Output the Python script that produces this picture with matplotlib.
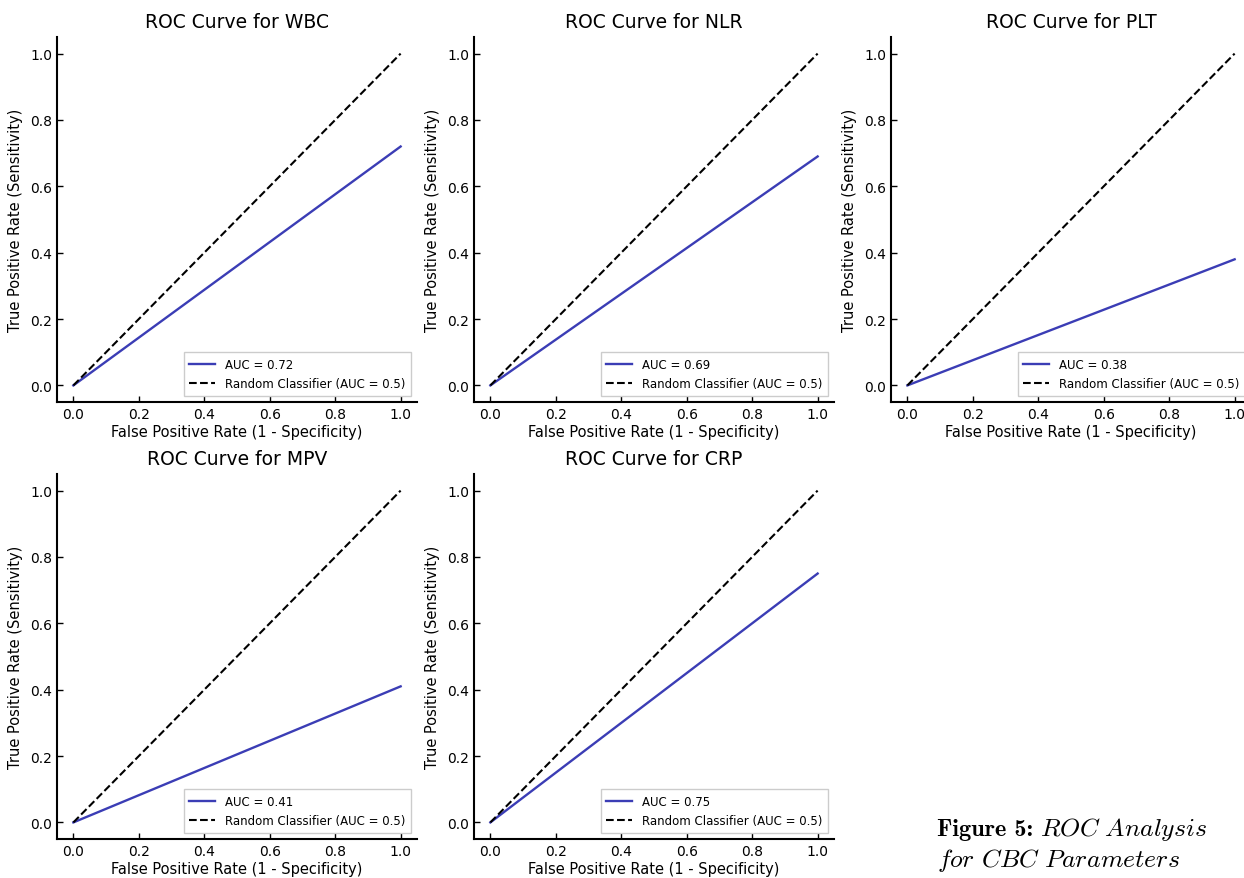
import matplotlib
matplotlib.use("Agg")
import matplotlib.pyplot as plt

plt.rcParams['mathtext.fontset'] = 'cm'

params = ["WBC", "NLR", "PLT", "MPV", "CRP"]
auc_values = [0.72, 0.69, 0.38, 0.41, 0.75]
fpr = [0.0, 1.0]
random_fpr = [0.0, 1.0]
random_tpr = [0.0, 1.0]
ticks = [0.0, 0.2, 0.4, 0.6, 0.8, 1.0]
tick_labels = ["0.0", "0.2", "0.4", "0.6", "0.8", "1.0"]

W, H = 1244, 879
fig = plt.figure(figsize=(W / 100, H / 100), dpi=100)

col_left = [57, 474, 891]
row_top = [38, 475]
ax_w, ax_h = 360, 365

positions = [(0, 0), (0, 1), (0, 2), (1, 0), (1, 1)]
for i, (name, auc) in enumerate(zip(params, auc_values)):
    r, c = positions[i]
    left = col_left[c] / W
    bottom = 1 - (row_top[r] + ax_h) / H
    ax = fig.add_axes([left, bottom, ax_w / W, ax_h / H])
    tpr = [0.0, auc]
    ax.plot(fpr, tpr, color='#3b3db5', lw=1.7, label=f"AUC = {auc:.2f}")
    ax.plot(random_fpr, random_tpr, color='black', ls='--', lw=1.5,
            label="Random Classifier (AUC = 0.5)")
    ax.set_xlim(-0.05, 1.05)
    ax.set_ylim(-0.05, 1.05)
    ax.set_xticks(ticks)
    ax.set_xticklabels(tick_labels)
    ax.set_yticks(ticks)
    ax.set_yticklabels(tick_labels)
    ax.tick_params(direction='in', labelsize=10, length=4, width=1)
    for s in ['top', 'right']:
        ax.spines[s].set_visible(False)
    for s in ['left', 'bottom']:
        ax.spines[s].set_linewidth(1.5)
    ax.set_title(f"ROC Curve for {name}", fontsize=13.5, pad=7)
    ax.set_xlabel("False Positive Rate (1 - Specificity)", fontsize=10.5, labelpad=2)
    ax.set_ylabel("True Positive Rate (Sensitivity)", fontsize=10.5, labelpad=5)
    ax.legend(loc='lower right', fontsize=8.5, fancybox=False, framealpha=1,
              edgecolor='#cccccc', handlelength=2.2, borderpad=0.5)

# caption
renderer = fig.canvas.get_renderer()
x0 = 937 / W
t1 = fig.text(x0, 1 - 836 / H, "Figure 5:", family='cmb10', fontsize=17.5,
              ha='left', va='baseline')
bb = t1.get_window_extent(renderer=renderer)
fig.text((bb.x1 + 7) / W, 1 - 836 / H, r'$\mathit{ROC\ Analysis}$',
         fontsize=18.5, ha='left', va='baseline')
fig.text(x0, 1 - 867 / H, r'$\mathit{for\ CBC\ Parameters}$',
         fontsize=18.5, ha='left', va='baseline')

fig.savefig("out.png", dpi=100)
